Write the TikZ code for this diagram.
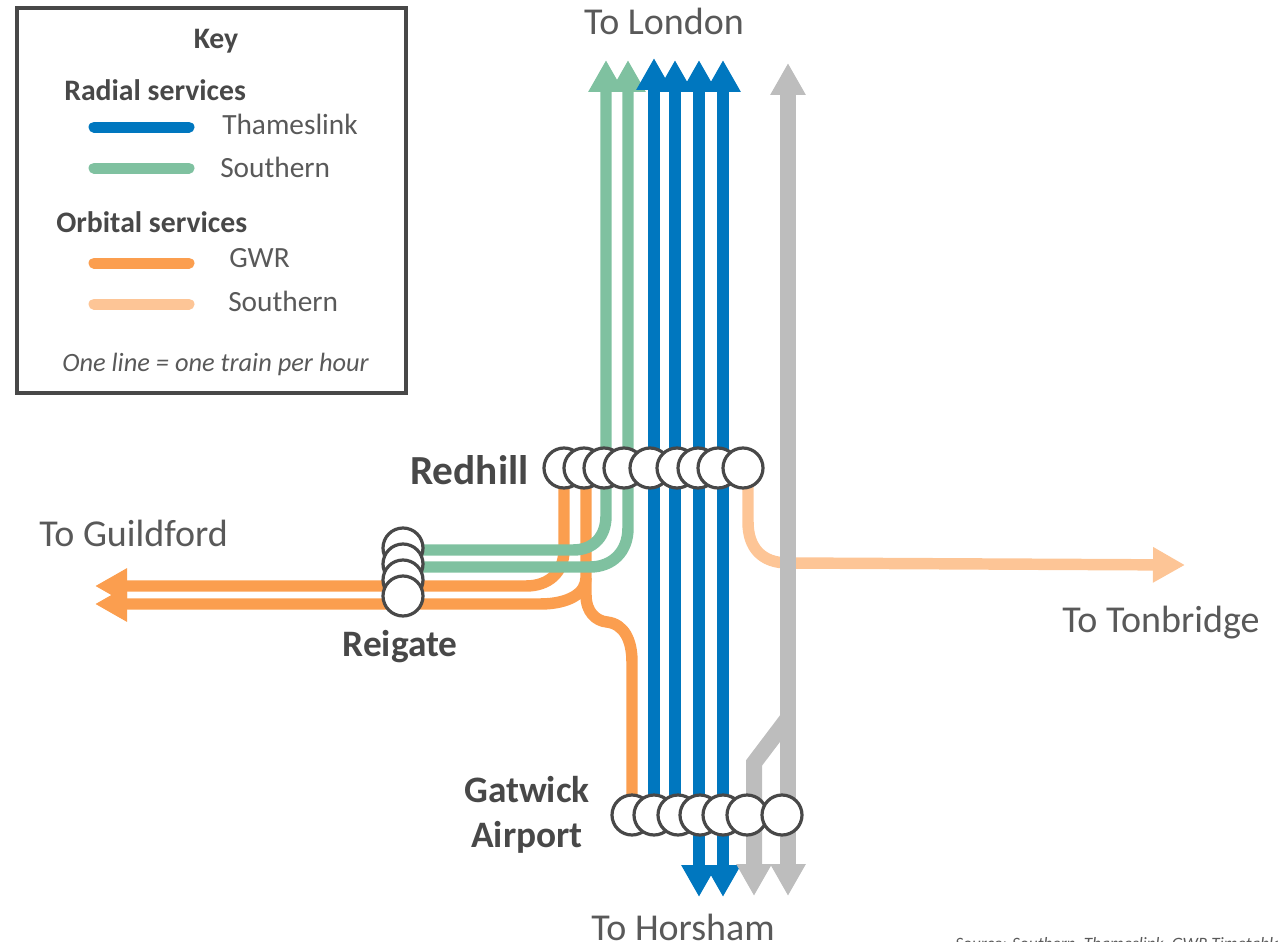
\documentclass[tikz,border=0pt]{standalone}
\usepackage{fontspec}
\setmainfont{Carlito}
\usetikzlibrary{arrows.meta,calc}
\definecolor{tlblue}{HTML}{0077BF}
\definecolor{sgreen}{HTML}{7FC1A0}
\definecolor{gworange}{HTML}{FB9E4F}
\definecolor{speach}{HTML}{FDC596}
\definecolor{railgrey}{HTML}{BDBDBD}
\definecolor{ink}{HTML}{595959}
\definecolor{inkdark}{HTML}{484848}
\pgfdeclarelayer{lines}
\pgfsetlayers{lines,main}
\tikzset{
  stn/.style={circle,draw=inkdark,line width=2.4pt,fill=white,minimum size=30pt,inner sep=0pt},
  track/.style={line width=8.6pt,line join=round},
  grey track/.style={line width=12pt,color=railgrey,line join=miter},
  headed/.style={-{Triangle[length=24pt,width=25pt]}},
  keyline/.style={line width=8.25pt,line cap=round},
  place/.style={font=\fontsize{28.5}{30}\selectfont,text=ink,inner sep=0pt},
  stnlabel/.style={font=\fontsize{28}{33.75}\selectfont\bfseries,text=inkdark,inner sep=0pt,align=center},
  keyhead/.style={font=\fontsize{22.3}{26}\selectfont\bfseries,text=inkdark,inner sep=0pt,anchor=west},
  keytext/.style={font=\fontsize{22}{26}\selectfont,text=ink,inner sep=0pt,anchor=west},
}
\begin{document}
\begin{tikzpicture}[x=0.75pt,y=-0.75pt]
\useasboundingbox (0,0) rectangle (1278,942);
% key
\node[draw=inkdark,line width=2.8pt,outer sep=0pt,minimum width=291.75pt,minimum height=288.75pt,anchor=north west,inner sep=0pt] (keybox) at (17,8) {};
\node[keyhead,anchor=center] (keytitle) at (216,41) {Key};
\node[keyhead] (radial) at (64,90) {Radial services};
\node[keytext] (ktl) at (222,124) {Thameslink};
\node[keytext] (ksr) at (220,167) {Southern};
\node[keyhead] (orbital) at (56,222) {Orbital services};
\node[keytext] (kgw) at (229,258) {GWR};
\node[keytext] (kso) at (228,301) {Southern};
\node[keytext,font=\fontsize{19.8}{24}\selectfont\itshape] (knote) at (62,364) {One line = one train per hour};
\coordinate (k1a) at (94,127); \coordinate (k1b) at (189,127);
\coordinate (k2a) at (94,168); \coordinate (k2b) at (189,168);
\coordinate (k3a) at (94,263); \coordinate (k3b) at (189,263);
\coordinate (k4a) at (94,304); \coordinate (k4b) at (189,304);
\draw[keyline,tlblue] (k1a) -- (k1b);
\draw[keyline,sgreen] (k2a) -- (k2b);
\draw[keyline,gworange] (k3a) -- (k3b);
\draw[keyline,speach] (k4a) -- (k4b);
% place labels
\node[place] (london) at (664,21) {To London};
\node[place,anchor=west] (guildford) at (39,533) {To Guildford};
\node[place,anchor=west] (tonbridge) at (1062,623) {To Tonbridge};
\node[place] (horsham) at (683,927) {To Horsham};
\node[stnlabel,anchor=west,font=\fontsize{31}{34}\selectfont\bfseries] (redhill) at (410,470) {Redhill};
\node[stnlabel] (reigate) at (400,647) {Reigate};
\node[stnlabel] (gatwick) at (527,815) {Gatwick\\Airport};
\node[anchor=base west,inner sep=0pt,font=\fontsize{13}{15}\selectfont\itshape,text=ink] (source) at (955,949) {Source: Southern, Thameslink, GWR Timetables};
% stations, drawn left to right / top to bottom so that later ones overlap earlier ones
\foreach \n/\x in {1/564,2/584,3/604,4/624,5/650,6/677,7/698,8/718,9/743}
  \node[stn] (rd\n) at (\x,468) {};
\foreach \n/\y in {1/548,2/564,3/580,4/596}
  \node[stn] (re\n) at (403,\y) {};
\foreach \n/\x in {1/632,2/654,3/678,4/700,5/723,6/747,7/782}
  \node[stn] (ga\n) at (\x,815) {};
% free ends
\coordinate (nA) at (606,60); \coordinate (nB) at (628,60);
\coordinate (nC) at (654,58); \coordinate (nD) at (675,60);
\coordinate (nE) at (699,60); \coordinate (nF) at (723,60);
\coordinate (nG) at (788,63);
\coordinate (sA) at (699,897); \coordinate (sB) at (723,897);
\coordinate (sC) at (754,896); \coordinate (sD) at (788,896);
\coordinate (wA) at (95,586); \coordinate (wB) at (95,604);
\coordinate (eA) at (1185,565);
\coordinate (merge) at (788,718);
\coordinate (join) at (586,578);
\begin{pgfonlayer}{lines}
% orbital GWR
\draw[track,gworange,headed] (rd1.center) -- (564,550) .. controls (564,572) and (549,586) .. (526,586) -- (wA);
\draw[track,gworange,headed] ($(rd2.center)+(2,0)$) -- (join) .. controls (586,593) and (569,604) .. (540,604) -- (wB);
\draw[track,gworange] (join) -- (586,595) .. controls (586,612) and (596,621) .. (607,622) .. controls (624,624) and (632,640) .. (632,662) -- (ga1.center);
% orbital Southern and grey line
\draw[track,speach,headed] ($(rd9.center)+(5,0)$) -- (748,522) .. controls (748,548) and (762,563) .. (788,563) -- (eA);
\draw[track,sgreen,headed] ($(re1.center)+(0,2)$) -- (573,550) .. controls (594,550) and (606,536) .. (606,516) -- (rd3.center -| nA) -- (nA);
\draw[track,sgreen,headed] ($(re2.center)+(0,3)$) -- (590,567) .. controls (612,567) and (628,552) .. (628,528) -- (rd4.center -| nB) -- (nB);
\draw[track,tlblue,headed] (ga2.center -| nC) -- (nC);
\draw[track,tlblue,headed] (ga3.center -| nD) -- (nD);
\draw[track,tlblue,headed] (ga4.center -| nE) -- (nE);
\draw[track,tlblue,headed] (ga5.center -| nF) -- (nF);
\draw[track,tlblue,headed] (ga4.center -| sA) -- (sA);
\draw[track,tlblue,headed] (ga5.center -| sB) -- (sB);
\draw[grey track,headed] (ga7.center -| nG) -- (nG);
\draw[grey track,headed] (ga7.center -| sD) -- (sD);
\draw[grey track,headed] (merge) -- (754,763) -- (ga6.center -| sC) -- (sC);
\end{pgfonlayer}
\end{tikzpicture}
\end{document}
